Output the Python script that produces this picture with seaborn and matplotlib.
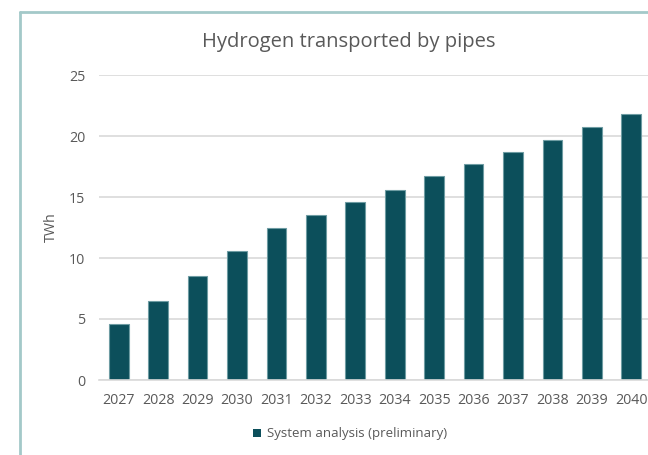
import matplotlib
matplotlib.use("Agg")
import matplotlib.pyplot as plt
import seaborn as sns
import pandas as pd
from matplotlib.lines import Line2D
from matplotlib.patches import Rectangle

years = ["2027", "2028", "2029", "2030", "2031", "2032", "2033",
         "2034", "2035", "2036", "2037", "2038", "2039", "2040"]
twh = [4.6, 6.5, 8.5, 10.6, 12.5, 13.5, 14.6, 15.6, 16.7, 17.7, 18.7, 19.7, 20.7, 21.8]
series_name = "System analysis (preliminary)"
title = "Hydrogen transported by pipes"
ylabel = "TWh"

df = pd.DataFrame({"year": years, "value": twh})

sns.set_theme(style="white")
plt.rcParams["font.family"] = ["Open Sans", "DejaVu Sans"]

W, H = 648, 455
fig = plt.figure(figsize=(6.48, 4.55), dpi=100)
ax = fig.add_axes([99 / W, 1 - 380 / H, 552 / W, 305 / H])

bar_color = "#0C4F5B"
sns.barplot(data=df, x="year", y="value", color=bar_color, width=0.5,
            saturation=1, edgecolor="#6E9CA3", linewidth=0.8, ax=ax)

text_color = "#595959"
ax.set_ylim(0, 25)
ax.set_yticks([0, 5, 10, 15, 20, 25])
ax.yaxis.grid(True, color="#D9D9D9", linewidth=1.2)
ax.set_axisbelow(True)
for s in ["top", "right", "left"]:
    ax.spines[s].set_visible(False)
ax.spines["bottom"].set_color("#D9D9D9")
ax.spines["bottom"].set_linewidth(1.2)
ax.tick_params(axis="both", length=0, labelsize=10.3, labelcolor=text_color)
ax.tick_params(axis="y", pad=10)
ax.tick_params(axis="x", pad=9)
ax.set_xlabel("")
ax.set_ylabel("")

fig.text(51 / W, 1 - 227 / H, ylabel, rotation=90, ha="center", va="center",
         fontsize=10.3, color=text_color)
fig.text(349 / W, 1 - 42 / H, title, ha="center", va="center",
         fontsize=14.5, color=text_color)

handle = Rectangle((0, 0), 1, 1, facecolor=bar_color, edgecolor="none")
fig.legend([handle], [series_name], loc="center", bbox_to_anchor=(350 / W, 1 - 434 / H),
           frameon=False, fontsize=9.5, labelcolor=text_color, handlelength=0.6,
           handleheight=0.6, handletextpad=0.4)

frame_color = "#A3C9C9"
fig.add_artist(Line2D([20 / W, 20 / W], [0, 1 - 12 / H], color=frame_color,
                      linewidth=2.0, transform=fig.transFigure))
fig.add_artist(Line2D([20 / W, 1.0], [1 - 12 / H, 1 - 12 / H], color=frame_color,
                      linewidth=2.0, transform=fig.transFigure))

fig.savefig("out.png", dpi=100)
